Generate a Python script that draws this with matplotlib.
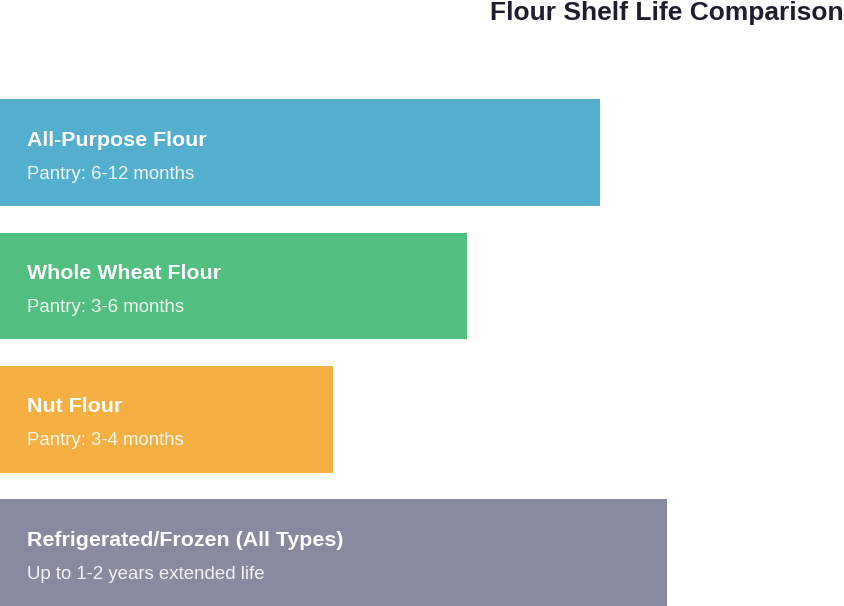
import matplotlib.pyplot as plt
from matplotlib import rcParams

rcParams['font.family'] = 'sans-serif'
rcParams['font.sans-serif'] = ['Liberation Sans', 'DejaVu Sans']

# data
names = ['All-Purpose Flour', 'Whole Wheat Flour', 'Nut Flour', 'Refrigerated/Frozen (All Types)']
notes = ['Pantry: 6-12 months', 'Pantry: 3-6 months', 'Pantry: 3-4 months', 'Up to 1-2 years extended life']
values = [9, 7, 5, 10]
colors = ['#54AFCF', '#52BE80', '#F4B042', '#888BA0']

fig = plt.figure(figsize=(8.44, 6.06), dpi=100)
ax = fig.add_axes([0, 0, 1, 1])

pos = list(range(len(names)))
ax.barh(pos, values, height=0.8, color=colors, align='center')

for i in pos:
    ax.text(0.405, i - 0.095, names[i], color='white', fontsize=15.4,
            fontweight='bold', va='center', ha='left')
    ax.text(0.405, i + 0.162, notes[i], color='white', alpha=0.9, fontsize=13.4,
            va='center', ha='left')

ax.set_xlim(0, 12.66)
ax.set_ylim(3.4, -1.146)
ax.axis('off')

fig.text(1.0, 0.979, 'Flour Shelf Life Comparison', ha='right', va='center',
         fontsize=19, fontweight='bold', color='#1E1E2E')

plt.savefig('out.png', dpi=100)
